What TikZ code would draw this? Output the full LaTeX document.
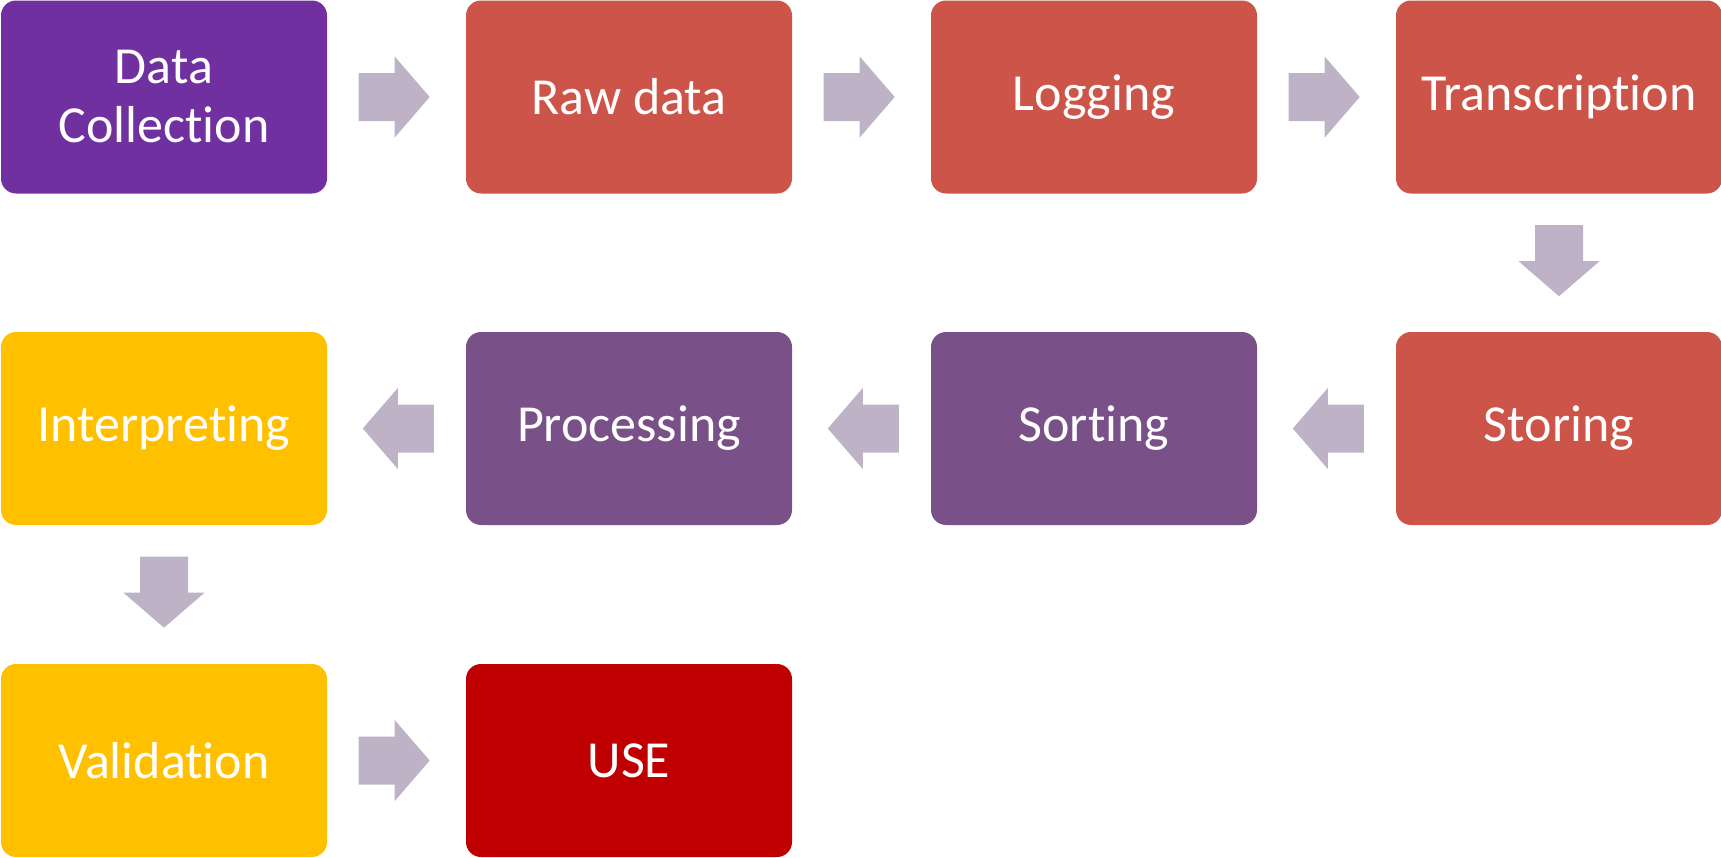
\documentclass[tikz,border=0pt]{standalone}
\usepackage{fontspec}
\setmainfont[RawFeature={-liga}]{Carlito}
\usetikzlibrary{calc}

\definecolor{collectpurple}{HTML}{7030A0}
\definecolor{stagered}{HTML}{CD5448}
\definecolor{stagepurple}{HTML}{7A5089}
\definecolor{stagegold}{HTML}{FFC000}
\definecolor{usered}{HTML}{C00000}
\definecolor{flowgrey}{HTML}{BEB3C6}

\tikzset{
  stagebox/.style={rectangle, rounded corners=15pt, inner sep=0pt,
    minimum width=326pt, minimum height=193pt, text=white, align=center,
    font=\fontsize{52}{59}\selectfont},
  flowarrow/.pic={
    \fill[flowgrey] (0,-24) -- (36,-24) -- (36,-40.5) -- (71,0)
      -- (36,40.5) -- (36,24) -- (0,24) -- cycle;
  }
}

\begin{document}
\begin{tikzpicture}[x=1pt, y=-1pt]
  \useasboundingbox (0,0) rectangle (1721,857);

  % first row, left to right
  \node[stagebox, fill=collectpurple] (collect) at (164,97)  {Data\\Collection};
  \node[stagebox, fill=stagered]      (raw)     at (629,97)  {Raw data};
  \node[stagebox, fill=stagered]      (log)     at (1094,97) {Logging};
  \node[stagebox, fill=stagered]      (trans)   at (1559,97) {Transcription};

  % second row, right to left
  \node[stagebox, fill=stagered]      (store)   at (1559,428.5) {Storing};
  \node[stagebox, fill=stagepurple]   (sort)    at (1094,428.5) {Sorting};
  \node[stagebox, fill=stagepurple]   (proc)    at (629,428.5)  {Processing};
  \node[stagebox, fill=stagegold]     (interp)  at (164,428.5)  {Interpreting};

  % third row
  \node[stagebox, fill=stagegold]     (valid)   at (164,760.5) {Validation};
  \node[stagebox, fill=usered]        (use)     at (629,760.5) {USE};

  % block arrows between the stages
  \pic at ($(collect.east)+(31.5,0)$) {flowarrow};
  \pic at ($(raw.east)+(31.5,0)$) {flowarrow};
  \pic at ($(log.east)+(31.5,0)$) {flowarrow};
  \pic[rotate=-90] at ($(trans.south)+(0,31.5)$) {flowarrow};
  \pic[rotate=180] at ($(store.west)+(-32,0)$) {flowarrow};
  \pic[rotate=180] at ($(sort.west)+(-32,0)$) {flowarrow};
  \pic[rotate=180] at ($(proc.west)+(-32,0)$) {flowarrow};
  \pic[rotate=-90] at ($(interp.south)+(0,31.5)$) {flowarrow};
  \pic at ($(valid.east)+(31.5,0)$) {flowarrow};
\end{tikzpicture}
\end{document}
